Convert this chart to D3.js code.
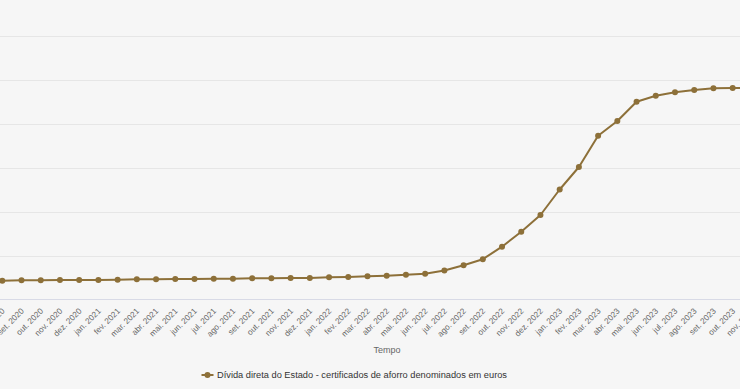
<!DOCTYPE html>
<html>
<head>
<meta charset="utf-8">
<script src="https://cdn.jsdelivr.net/npm/d3@7"></script>
<style>
  html, body { margin: 0; padding: 0; background: #f6f6f6; }
  svg { display: block; }
</style>
</head>
<body>
<svg id="chart" width="740" height="389"></svg>
<script>
const months = [
  "ago. 2020","set. 2020","out. 2020","nov. 2020","dez. 2020",
  "jan. 2021","fev. 2021","mar. 2021","abr. 2021","mai. 2021","jun. 2021","jul. 2021","ago. 2021","set. 2021","out. 2021","nov. 2021","dez. 2021",
  "jan. 2022","fev. 2022","mar. 2022","abr. 2022","mai. 2022","jun. 2022","jul. 2022","ago. 2022","set. 2022","out. 2022","nov. 2022","dez. 2022",
  "jan. 2023","fev. 2023","mar. 2023","abr. 2023","mai. 2023","jun. 2023","jul. 2023","ago. 2023","set. 2023","out. 2023","nov. 2023"
];
const values = [
  12227, 12273, 12273, 12307, 12307,
  12307, 12341, 12386, 12386, 12420, 12420, 12455, 12455, 12500, 12500, 12534, 12534,
  12614, 12648, 12727, 12795, 12909, 13023, 13386, 13977, 14670, 16091, 17795, 19693,
  22591, 25148, 28705, 30375, 32569, 33250, 33637, 33898, 34091, 34125, 34148
];
const gridValues = [15000, 20000, 25000, 30000, 35000, 40000];
const seriesName = "Dívida direta do Estado - certificados de aforro denominados em euros";
const axisTitle = "Tempo";

const svg = d3.select("#chart");
const color = "#8d7039";

const x = d3.scalePoint().domain(months).range([2.3, 2.3 + 19.22 * (months.length - 1)]);
const y = d3.scaleLinear().domain([10000, 40000]).range([300.3, 36.3]);

// gridlines
svg.append("g").selectAll("line").data(gridValues).join("line")
  .attr("x1", 0).attr("x2", 740)
  .attr("y1", d => Math.round(y(d)) + 0.5).attr("y2", d => Math.round(y(d)) + 0.5)
  .attr("stroke", "#e6e6e6").attr("stroke-width", 1);

// x axis
const xAxis = d3.axisBottom(x).tickSize(0).tickPadding(0);
const gx = svg.append("g").attr("transform", `translate(0,${Math.round(y(10000)) - 0.5})`).call(xAxis);
gx.select(".domain").attr("stroke", "#d8dae6").attr("d", "M0,0H740");
gx.selectAll(".tick text")
  .attr("text-anchor", "end")
  .attr("dy", null)
  .attr("transform", "translate(2.5,12) rotate(-45)")
  .attr("fill", "#666666")
  .style("font-family", "'Liberation Sans', Arial, sans-serif")
  .style("font-size", "8.2px");

// axis title
svg.append("text")
  .attr("x", 387).attr("y", 352.5)
  .attr("text-anchor", "middle")
  .attr("fill", "#666666")
  .style("font-family", "'Liberation Sans', Arial, sans-serif")
  .style("font-size", "9px")
  .text(axisTitle);

// line
const data = months.map((m, i) => ({ m, v: values[i] }));
svg.append("path").datum(data)
  .attr("fill", "none")
  .attr("stroke", color)
  .attr("stroke-width", 2)
  .attr("stroke-linejoin", "round")
  .attr("d", d3.line().x(d => x(d.m)).y(d => y(d.v)));

svg.append("g").selectAll("circle").data(data).join("circle")
  .attr("cx", d => x(d.m)).attr("cy", d => y(d.v))
  .attr("r", 3).attr("fill", color);

// legend
const lg = svg.append("g").attr("transform", "translate(201.5,375)");
lg.append("line").attr("x1", 0).attr("x2", 12).attr("y1", 0).attr("y2", 0)
  .attr("stroke", color).attr("stroke-width", 2);
lg.append("circle").attr("cx", 6).attr("cy", 0).attr("r", 3).attr("fill", color);
lg.append("text").attr("x", 15.5).attr("y", 3.2)
  .attr("fill", "#333333")
  .style("font-family", "'Liberation Sans', Arial, sans-serif")
  .style("font-size", "9.25px")
  .text(seriesName);
</script>
</body>
</html>
